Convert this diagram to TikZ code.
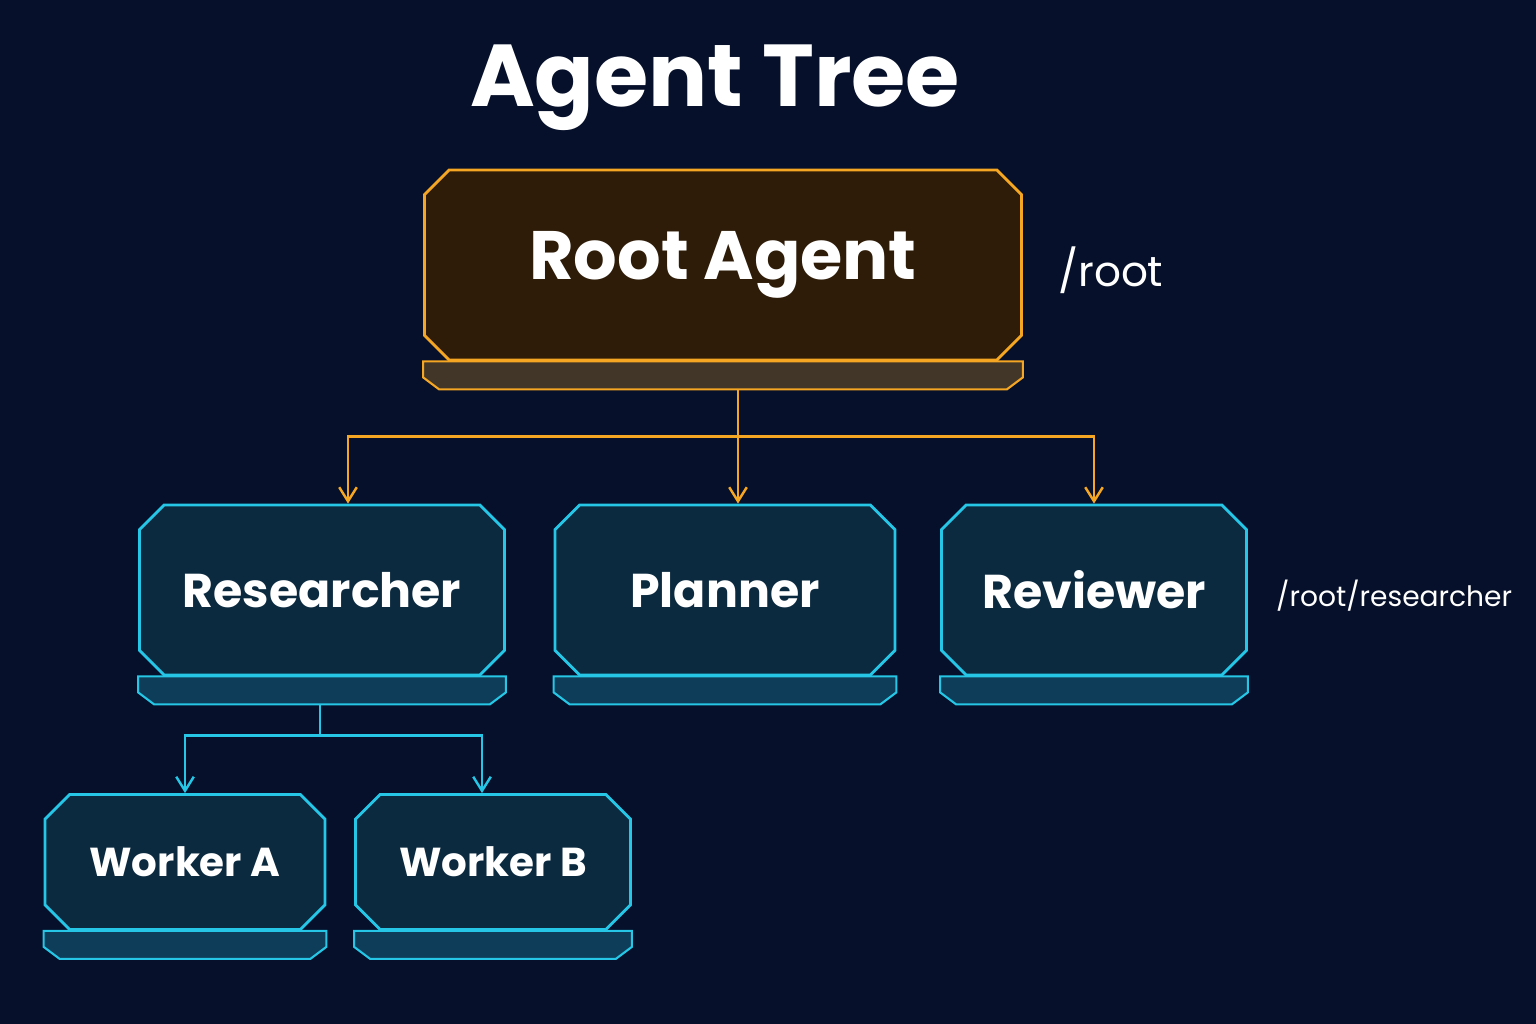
\documentclass[tikz,border=0pt]{standalone}
\usepackage{fontspec}
\setmainfont{Poppins}
\usetikzlibrary{shapes.misc,calc,arrows.meta}

\definecolor{bgnavy}{HTML}{06102A}
\definecolor{amber}{HTML}{F5A623}
\definecolor{amberfill}{HTML}{2E1C08}
\definecolor{cyanline}{HTML}{25C6E6}
\definecolor{cyanfill}{HTML}{0B2A40}

\tikzset{
    agent/.style={chamfered rectangle, chamfered rectangle xsep=7pt,
        chamfered rectangle ysep=7pt, inner sep=2pt, draw=cyanline, line width=1.6pt,
        fill=cyanfill, text=white, font=\bfseries\fontsize{27}{30}\selectfont},
    rootagent/.style={agent, draw=amber, fill=amberfill,
        font=\bfseries\fontsize{39}{42}\selectfont},
    worker/.style={agent, font=\bfseries\fontsize{23}{26}\selectfont},
    link/.style={line width=1.4pt, -{Straight Barb[length=8pt,width=10pt]}},
    path label/.style={text=white, font=\fontsize{24}{28}\selectfont},
}

\newcommand{\slab}[2]{%
    \fill[#2!25!bgnavy, draw=#2, line width=1.2pt]
        (#1.west |- #1.south) -- ++(0,-16) -- ++(16,-12)
        -- ($(#1.east |- #1.south)+(-16,-28)$) -- ++(16,12)
        -- (#1.east |- #1.south) -- cycle;}

\begin{document}
\begin{tikzpicture}[x=0.02cm, y=0.02cm]
    \fill[bgnavy] (0,0) rectangle (1536,1024);
    \useasboundingbox (0,0) rectangle (1536,1024);

    \node[text=white, font=\bfseries\fontsize{50}{54}\selectfont] (title) at (715,936) {Agent Tree};

    % agents
    \node[rootagent, minimum width=11.94cm, minimum height=3.8cm] (root) at (723,759) {Root Agent};
    \node[agent, minimum width=7.3cm, minimum height=3.4cm] (res) at (322,434) {Researcher};
    \node[agent, minimum width=6.8cm, minimum height=3.4cm] (plan) at (725,434) {Planner};
    \node[agent, minimum width=6.1cm, minimum height=3.4cm] (rev) at (1094,434) {Reviewer};
    \node[worker, minimum width=5.6cm, minimum height=2.7cm] (wa) at (185,162) {Worker A};
    \node[worker, minimum width=5.5cm, minimum height=2.7cm] (wb) at (493,162) {Worker B};

    \slab{root}{amber}
    \slab{res}{cyanline}
    \slab{plan}{cyanline}
    \slab{rev}{cyanline}
    \slab{wa}{cyanline}
    \slab{wb}{cyanline}

    \node[path label, anchor=west] (rootpath) at (1052,754) {/root};
    \node[path label, anchor=west, font=\fontsize{16}{20}\selectfont] (respath) at (1270,428) {/root/researcher};

    % links
    \coordinate (rootbot) at ($(root.south)+(15,-28)$);
    \coordinate (rootfork) at ($(rootbot)+(0,-47)$);
    \draw[amber, line width=1.4pt] (rootbot) -- (rootfork);
    \draw[amber, link] (rootfork) -| ($(res.north)+(26,0)$);
    \draw[amber, link] (rootfork) -- (rootfork |- plan.north);
    \draw[amber, link] (rootfork) -| (rev.north);

    \coordinate (resbot) at ($(res.south)+(-2,-28)$);
    \coordinate (resfork) at ($(resbot)+(0,-31)$);
    \draw[cyanline, line width=1.4pt] (resbot) -- (resfork);
    \draw[cyanline, link] (resfork) -| (wa.north);
    \draw[cyanline, link] (resfork) -| ($(wb.north)+(-11,0)$);
\end{tikzpicture}
\end{document}
